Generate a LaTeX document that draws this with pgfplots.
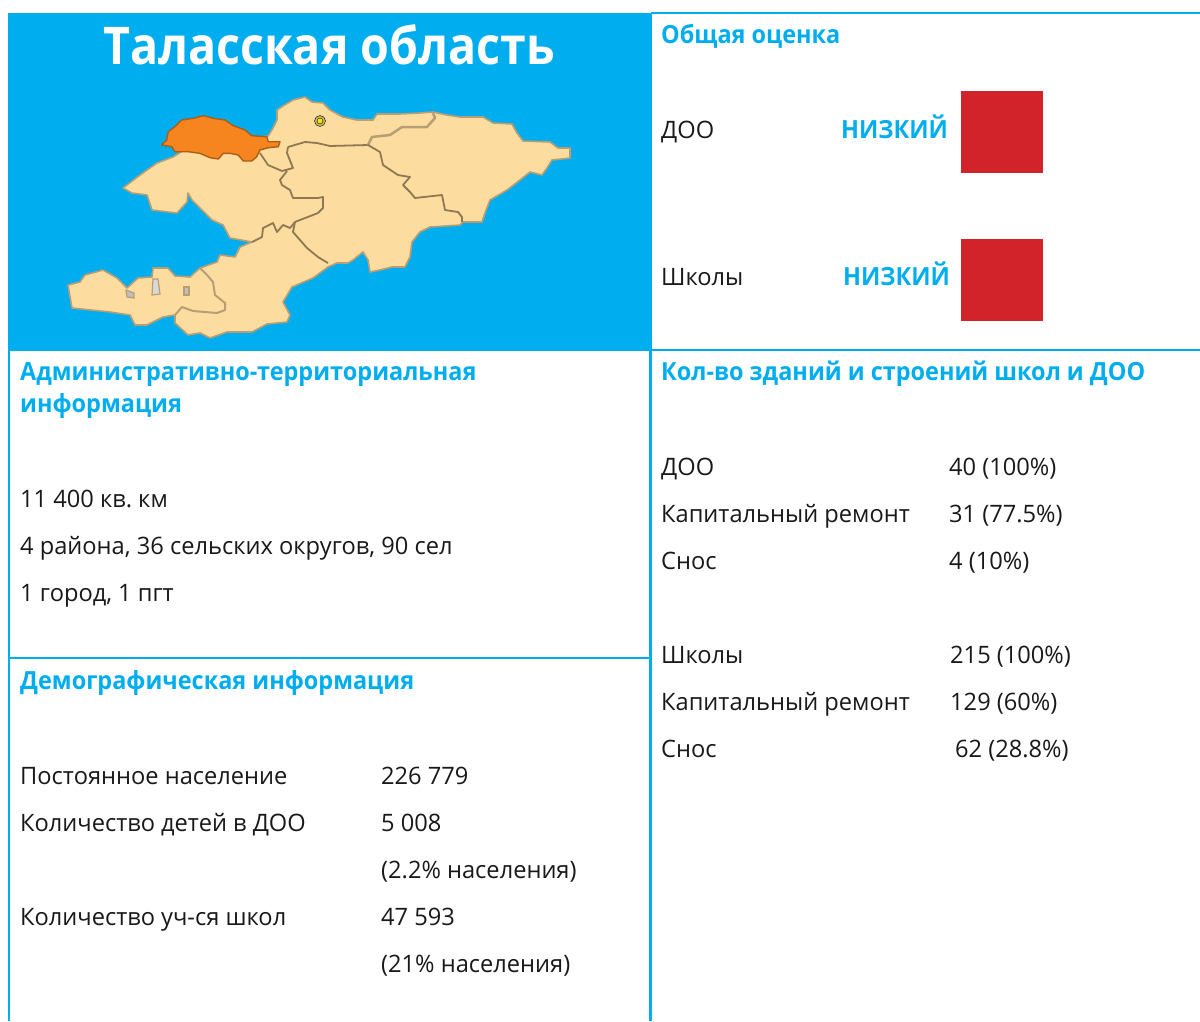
\documentclass[border=0pt]{standalone}
\usepackage{fontspec}
\usepackage{pgfplots}
\pgfplotsset{compat=1.18}
\setmainfont{Open Sans}
\newfontfamily\bodyfont[FakeStretch=0.985]{Open Sans}
\newfontfamily\headfont[FakeStretch=0.938]{Open Sans Bold}
\newfontfamily\titlefont[FakeStretch=0.895]{Open Sans Bold}
\definecolor{skyb}{HTML}{00AEEF}
\definecolor{land}{HTML}{FDDC9F}
\definecolor{talas}{HTML}{F6851F}
\definecolor{edge}{HTML}{B89E74}
\definecolor{inner}{HTML}{8F7852}
\definecolor{redbox}{HTML}{D2232A}
\frenchspacing
\newcommand{\body}[3]{\node[anchor=base west,inner sep=0pt,text=black!90,font=\fontsize{24}{28}\bodyfont] at (axis cs:#1,#2) {\frenchspacing #3};}
\newcommand{\head}[3]{\node[anchor=base west,inner sep=0pt,text=skyb,font=\fontsize{25}{28}\headfont] at (axis cs:#1,#2) {#3};}
\begin{document}
\begin{tikzpicture}
\begin{axis}[scale only axis,width=1200pt,height=1021pt,xmin=0,xmax=1200,ymin=0,ymax=1021,y dir=reverse,hide axis,clip=true]
% page
\addplot[fill=white,draw=none] coordinates {(0,0) (1200,0) (1200,1021) (0,1021)} --cycle;
% panels
\addplot[fill=skyb,draw=none] coordinates {(8,13) (651,13) (651,351) (8,351)} --cycle;
\addplot[skyb,line width=2.5pt] coordinates {(651,13) (1200,13)};
\addplot[skyb,line width=2.5pt] coordinates {(651,350) (1200,350)};
\addplot[skyb,line width=2.5pt] coordinates {(9,350) (9,1021)};
\addplot[skyb,line width=2.5pt] coordinates {(650.5,13) (650.5,1021)};
\addplot[skyb,line width=2.5pt] coordinates {(9,658) (650,658)};
% map
\addplot[fill=land,draw=edge,line width=1.6pt,line join=round] coordinates {
(240,140) (268,136) (273,128) (277,120) (277,110) (283,106) (293,100) (305,97) (312,102) (323,103)
(330,110) (343,117) (357,120) (373,120) (377,114) (400,114) (420,113) (433,112) (447,115) (460,117)
(483,117) (493,123) (512,124) (517,133) (523,141) (550,142) (558,148) (570,148) (570,158) (552,160)
(547,168) (542,175) (530,172) (520,180) (507,190) (490,200) (485,213) (482,222) (463,222) (460,225)
(430,227) (420,232) (412,242) (410,257) (405,267) (392,267) (380,270) (370,272) (368,260) (363,252)
(353,260) (348,263) (337,263) (328,267) (313,278) (292,287) (283,302) (290,315) (287,322) (267,324)
(252,332) (227,332) (210,338) (200,333) (188,335) (175,323) (175,315) (163,317) (147,325) (135,325)
(130,315) (110,312) (72,308) (68,285) (80,282) (85,275) (103,270) (117,278) (127,288) (138,278)
(152,277) (153,268) (168,268) (175,276) (190,277) (200,268) (217,262) (220,255) (235,257) (240,247)
(252,242) (230,238) (223,225) (212,220) (200,208) (192,200) (188,193) (187,202) (177,213) (168,212)
(152,210) (147,195) (132,193) (123,188) (140,175) (157,163) (173,157) (200,140)} --cycle;
\addplot[inner,line width=1.8pt,line join=round] coordinates {(288,147) (305,142) (317,143) (330,146) (368,145)};
\addplot[inner,line width=1.8pt,line join=round] coordinates {(260,153) (268,165) (282,171) (293,168) (287,153) (288,147)};
\addplot[inner,line width=1.8pt,line join=round] coordinates {(287,171) (280,180) (282,185) (290,190) (293,198) (318,198) (323,197) (323,208) (318,213) (300,220) (295,222) (293,232) (307,248) (318,257) (328,263)};
\addplot[inner,line width=1.8pt,line join=round] coordinates {(252,242) (262,237) (263,228) (273,223) (277,232) (283,225) (290,228) (295,222)};
\addplot[edge,line width=2pt,line join=round] coordinates {(200,268) (207,275) (213,282) (215,295) (225,303) (225,310) (217,313) (193,311) (182,307) (175,315)};
\addplot[edge,line width=2.5pt,line join=round] coordinates {(368,145) (372,137) (390,135) (402,127) (427,127) (435,118) (433,113)};
\addplot[inner,line width=1.8pt,line join=round] coordinates {(368,145) (380,152) (383,165) (398,175) (410,177) (403,185) (410,192) (415,198) (442,195) (445,210) (458,212) (462,217) (462,222)};
\addplot[fill=white!70!gray,draw=edge,line width=1.2pt] coordinates {(153,279) (158,279) (160,294) (152,295)} --cycle;
\addplot[fill=white!50!gray,draw=edge,line width=1.2pt] coordinates {(184,287) (189,287) (189,295) (184,295)} --cycle;
\addplot[fill=white!50!gray,draw=edge,line width=1.2pt] coordinates {(126,290) (134,293) (134,298) (127,297)} --cycle;
\addplot[fill=talas,draw=talas!70!black,line width=1.4pt,line join=round] coordinates {
(161.7,145) (166.7,140) (168.3,131.7) (175,126.7) (181.7,120) (193.3,118.3) (203.3,115.7) (213.3,118.3)
(225,120) (233.3,125.7) (245,130) (251.7,135.7) (266.7,136.7) (268.3,141.7) (280,141.7) (278.3,146.7)
(268.3,147.7) (260,150) (256.7,156.7) (251.7,161) (243.3,161) (238.3,155) (230,153.3) (223.3,153.3)
(218.3,159) (210,157.7) (200,153.3) (188.3,151.7) (175,151.7) (171.7,146.7)} --cycle;
\addplot[only marks,mark=*,mark size=5.5pt,mark options={fill=land!60!olive,draw=none}] coordinates {(320,121)};
\addplot[only marks,mark=*,mark size=3pt,mark options={fill=yellow!85!orange,draw=none}] coordinates {(320,121)};
% red squares
\addplot[fill=redbox,draw=none] coordinates {(961,91) (1043,91) (1043,173) (961,173)} --cycle;
\addplot[fill=redbox,draw=none] coordinates {(961,239) (1043,239) (1043,321) (961,321)} --cycle;
% title
\node[anchor=base,inner sep=0pt,text=white,font=\fontsize{52}{56}\titlefont] at (axis cs:329,64) {Таласская область};
% headings
\head{661}{43}{Общая оценка}
\head{841}{138}{НИЗКИЙ}
\head{843}{285}{НИЗКИЙ}
\head{20}{380}{Административно-территориальная}
\head{20}{412}{информация}
\head{661}{380}{Кол-во зданий и строений школ и ДОО}
\head{20}{689}{Демографическая информация}
% body left
\body{20}{507}{11 400 кв. км}
\body{20}{554}{4 района, 36 сельских округов, 90 сел}
\body{20}{601}{1 город, 1 пгт}
\body{20}{784}{Постоянное население}
\body{381}{784}{226 779}
\body{20}{831}{Количество детей в ДОО}
\body{381}{831}{5 008}
\body{381}{878}{(2.2\% населения)}
\body{20}{925}{Количество уч-ся школ}
\body{381}{925}{47 593}
\body{381}{972}{(21\% населения)}
% body right
\body{661}{138}{ДОО}
\body{661}{285}{Школы}
\body{661}{475}{ДОО}
\body{949}{475}{40 (100\%)}
\body{661}{522}{Капитальный ремонт}
\body{949}{522}{31 (77.5\%)}
\body{661}{569}{Снос}
\body{949}{569}{4 (10\%)}
\body{661}{663}{Школы}
\body{950}{663}{215 (100\%)}
\body{661}{710}{Капитальный ремонт}
\body{950}{710}{129 (60\%)}
\body{661}{757}{Снос}
\body{955}{757}{62 (28.8\%)}
\end{axis}
\end{tikzpicture}
\end{document}
